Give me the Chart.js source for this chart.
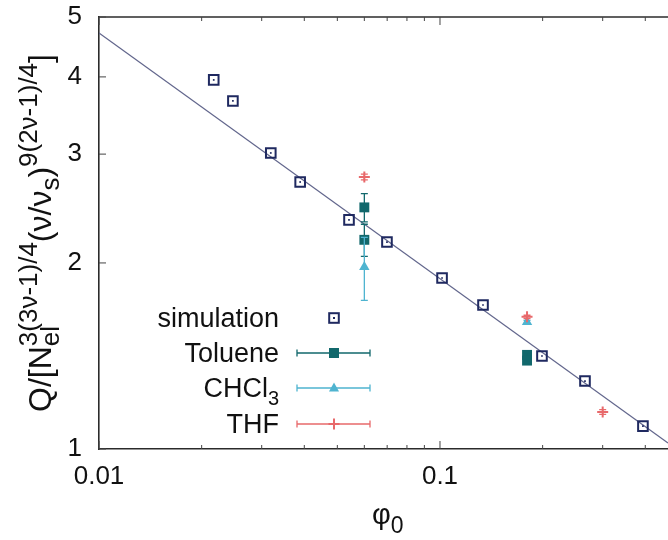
<!DOCTYPE html>
<html>
<head>
<meta charset="utf-8">
<script src="https://cdn.jsdelivr.net/npm/chart.js@4.4.1/dist/chart.umd.min.js"></script>
<style>
  html, body { margin: 0; padding: 0; background: #fff; }
  #wrap { width: 668px; height: 540px; }
</style>
</head>
<body>
<div id="wrap"><canvas id="chart" width="668" height="540"></canvas></div>
<script>
// simulation points
const simPhi = [0.0217, 0.0247, 0.0319, 0.0389, 0.0541, 0.0699, 0.1014, 0.1337, 0.1991, 0.2662, 0.3937];
const simQ   = [3.955, 3.657, 3.013, 2.704, 2.348, 2.162, 1.891, 1.710, 1.414, 1.288, 1.089];

// experiments
const toluenePhi = [0.06, 0.06, 0.18, 0.18];
const tolueneQ   = [2.46, 2.18, 1.42, 1.39];
const tolueneErr = [0.13, 0.13, 0.01, 0.01];

const chcl3Phi = [0.06, 0.18];
const chcl3Q   = [1.97, 1.605];
const chcl3Err = [0.23, 0.01];

const thfPhi = [0.06, 0.18, 0.30];
const thfQ   = [2.755, 1.636, 1.148];
const thfErr = [0.03, 0.01, 0.01];

// fitted power law, end points
const fitPhi = [0.01, 0.4663];
const fitQ   = [4.71, 1.0226];

const xTickLabels = [0.01, 0.1];
const xMinorTicks = [0.02, 0.03, 0.04, 0.05, 0.06, 0.07, 0.08, 0.09, 0.2, 0.3, 0.4];
const yTickLabels = [1, 2, 3, 4, 5];

const NAVY = '#1f2960';
const TEAL = '#12686c';
const CYAN = '#4fb4d0';
const RED = '#e8696b';
const FONT = "'Liberation Sans', Arial, sans-serif";

const pts = (xs, ys) => xs.map((v, i) => ({x: v, y: ys[i]}));

const errors = {
    toluene: {phi: toluenePhi, q: tolueneQ, err: tolueneErr, color: TEAL},
    chcl3: {phi: chcl3Phi, q: chcl3Q, err: chcl3Err, color: CYAN},
    thf: {phi: thfPhi, q: thfQ, err: thfErr, color: RED}
};

// error bars drawn right after the owning dataset, so layering follows plot order
const errorBarPlugin = {
    id: 'errorBars',
    afterDatasetDraw(chart, args) {
        const key = chart.data.datasets[args.index].errKey;
        if (!key) return;
        const e = errors[key];
        const {ctx, scales: {x, y}} = chart;
        ctx.save();
        ctx.strokeStyle = e.color;
        ctx.lineWidth = 1.3;
        ctx.beginPath();
        e.phi.forEach((p, i) => {
            const px = x.getPixelForValue(p);
            const top = y.getPixelForValue(e.q[i] + e.err[i]);
            const bot = y.getPixelForValue(e.q[i] - e.err[i]);
            ctx.moveTo(px, top); ctx.lineTo(px, bot);
            ctx.moveTo(px - 3.5, top); ctx.lineTo(px + 3.5, top);
            ctx.moveTo(px - 3.5, bot); ctx.lineTo(px + 3.5, bot);
        });
        ctx.stroke();
        ctx.restore();
    }
};

function drawMarker(ctx, kind, cx, cy) {
    ctx.save();
    if (kind === 'sim') {
        ctx.strokeStyle = NAVY; ctx.lineWidth = 2;
        ctx.strokeRect(cx - 4.8, cy - 4.8, 9.6, 9.6);
        ctx.fillStyle = NAVY;
        ctx.fillRect(cx - 1, cy - 1, 2, 2);
    } else if (kind === 'toluene') {
        ctx.fillStyle = TEAL;
        ctx.fillRect(cx - 5, cy - 5, 10, 10);
    } else if (kind === 'chcl3') {
        ctx.fillStyle = CYAN;
        ctx.beginPath();
        ctx.moveTo(cx, cy - 5.5); ctx.lineTo(cx + 5, cy + 3.5); ctx.lineTo(cx - 5, cy + 3.5);
        ctx.closePath(); ctx.fill();
    } else {
        ctx.strokeStyle = RED; ctx.lineWidth = 2;
        ctx.beginPath();
        ctx.moveTo(cx, cy - 5.5); ctx.lineTo(cx, cy + 5.5);
        ctx.moveTo(cx - 5.5, cy); ctx.lineTo(cx + 5.5, cy);
        ctx.stroke();
    }
    ctx.restore();
}

// draw a list of text runs; sizes and offsets are in the text's own frame
function drawRuns(ctx, runs, startX, baseY) {
    let cx = startX;
    runs.forEach(r => {
        ctx.font = r.size + 'px ' + FONT;
        ctx.fillText(r.t, cx, baseY + (r.dy || 0));
        const w = ctx.measureText(r.t).width;
        if (!r.stack) cx += w;
    });
    return cx - startX;
}
function runsWidth(ctx, runs) {
    let w = 0;
    runs.forEach(r => {
        ctx.font = r.size + 'px ' + FONT;
        if (!r.stack) w += ctx.measureText(r.t).width;
    });
    return w;
}

const decorPlugin = {
    id: 'decor',
    afterDraw(chart) {
        const {ctx, chartArea: a, scales: {x, y}} = chart;
        ctx.save();
        // top edge of the frame (left and bottom come from the axis borders)
        ctx.strokeStyle = '#2b2b2b';
        ctx.lineWidth = 1.6;
        ctx.beginPath();
        ctx.moveTo(a.left, a.top); ctx.lineTo(a.right, a.top);
        ctx.stroke();

        // inward ticks
        ctx.lineWidth = 1;
        ctx.strokeStyle = '#444';
        ctx.beginPath();
        xTickLabels.forEach(v => {
            const px = x.getPixelForValue(v);
            ctx.moveTo(px, a.bottom); ctx.lineTo(px, a.bottom - 8);
            ctx.moveTo(px, a.top); ctx.lineTo(px, a.top + 8);
        });
        xMinorTicks.forEach(v => {
            const px = x.getPixelForValue(v);
            ctx.moveTo(px, a.bottom); ctx.lineTo(px, a.bottom - 4);
            ctx.moveTo(px, a.top); ctx.lineTo(px, a.top + 4);
        });
        yTickLabels.forEach(v => {
            const py = y.getPixelForValue(v);
            ctx.moveTo(a.left, py); ctx.lineTo(a.left + 7, py);
        });
        ctx.stroke();

        ctx.fillStyle = '#111';
        ctx.textBaseline = 'alphabetic';

        // x title
        ctx.textAlign = 'left';
        drawRuns(ctx, [{t: 'φ', size: 29}, {t: '0', size: 23, dy: 9}], 372, 524);

        // y title, rotated
        const yRuns = [
            {t: 'Q/[N', size: 32},
            {t: 'el', size: 26, dy: 8, stack: true},
            {t: '3(3ν-1)/4', size: 26, dy: -14},
            {t: '(ν/ν', size: 32},
            {t: 's', size: 26, dy: 8},
            {t: ')', size: 32},
            {t: '9(2ν-1)/4', size: 26, dy: -14},
            {t: ']', size: 32}
        ];
        ctx.save();
        ctx.translate(51, 233);
        ctx.rotate(-Math.PI / 2);
        const w = runsWidth(ctx, yRuns);
        drawRuns(ctx, yRuns, -w / 2, 0);
        ctx.restore();

        // key
        const rows = [
            {kind: 'sim', y: 318, runs: [{t: 'simulation', size: 27}]},
            {kind: 'toluene', y: 353, runs: [{t: 'Toluene', size: 27}], color: TEAL},
            {kind: 'chcl3', y: 388, runs: [{t: 'CHCl', size: 27}, {t: '3', size: 20, dy: 8}], color: CYAN},
            {kind: 'thf', y: 424, runs: [{t: 'THF', size: 27}], color: RED}
        ];
        rows.forEach(r => {
            const tw = runsWidth(ctx, r.runs);
            drawRuns(ctx, r.runs, 279 - tw, r.y + 9);
            if (r.color) {
                ctx.strokeStyle = r.color;
                ctx.lineWidth = 1.3;
                ctx.beginPath();
                ctx.moveTo(297, r.y); ctx.lineTo(370, r.y);
                ctx.moveTo(297, r.y - 3.5); ctx.lineTo(297, r.y + 3.5);
                ctx.moveTo(370, r.y - 3.5); ctx.lineTo(370, r.y + 3.5);
                ctx.stroke();
            }
            drawMarker(ctx, r.kind, 334, r.y);
        });
        ctx.restore();
    }
};

const chart = new Chart(document.getElementById('chart'), {
    type: 'scatter',
    data: {
        datasets: [
            {
                label: 'fit',
                data: pts(fitPhi, fitQ),
                showLine: true,
                borderColor: '#62668c',
                borderWidth: 1.2,
                pointRadius: 0,
                order: 9
            },
            {
                label: 'simulation',
                data: pts(simPhi, simQ),
                pointStyle: 'rect',
                pointRadius: 6.8,
                borderWidth: 2,
                borderColor: NAVY,
                backgroundColor: 'rgba(0,0,0,0)',
                order: 8
            },
            {
                label: 'simulation centre',
                data: pts(simPhi, simQ),
                pointStyle: 'rect',
                pointRadius: 1.2,
                borderWidth: 0,
                backgroundColor: NAVY,
                order: 7
            },
            {
                label: 'Toluene',
                errKey: 'toluene',
                data: pts(toluenePhi, tolueneQ),
                pointStyle: 'rect',
                pointRadius: 7,
                borderWidth: 0,
                backgroundColor: TEAL,
                order: 6
            },
            {
                label: 'CHCl3',
                errKey: 'chcl3',
                data: pts(chcl3Phi, chcl3Q),
                pointStyle: 'triangle',
                pointRadius: 6,
                borderWidth: 0,
                backgroundColor: CYAN,
                order: 5
            },
            {
                label: 'THF',
                errKey: 'thf',
                data: pts(thfPhi, thfQ),
                pointStyle: 'cross',
                pointRadius: 5.5,
                borderWidth: 2,
                borderColor: RED,
                order: 4
            }
        ]
    },
    options: {
        responsive: false,
        animation: false,
        devicePixelRatio: 1,
        layout: {autoPadding: false, padding: {top: 17, right: 0, left: 0, bottom: 0}},
        plugins: {legend: {display: false}, tooltip: {enabled: false}},
        scales: {
            x: {
                type: 'logarithmic',
                min: 0.01,
                max: 0.4663,
                grid: {display: false, drawTicks: false},
                border: {display: true, color: '#2b2b2b', width: 1.6},
                afterBuildTicks: s => { s.ticks = xTickLabels.map(v => ({value: v})); },
                afterFit: s => { s.height = 91; s.paddingLeft = 0; s.paddingRight = 0; },
                ticks: {
                    padding: 12,
                    color: '#111',
                    font: {family: FONT, size: 26},
                    callback: v => String(v)
                }
            },
            y: {
                type: 'logarithmic',
                min: 1,
                max: 5,
                grid: {display: false, drawTicks: false},
                border: {display: true, color: '#2b2b2b', width: 1.6},
                afterBuildTicks: s => { s.ticks = yTickLabels.map(v => ({value: v})); },
                afterFit: s => { s.width = 99; s.paddingTop = 0; s.paddingBottom = 0; },
                ticks: {
                    padding: 17,
                    color: '#111',
                    font: {family: FONT, size: 26},
                    callback: v => String(v)
                }
            }
        }
    },
    plugins: [errorBarPlugin, decorPlugin]
});
</script>
</body>
</html>
